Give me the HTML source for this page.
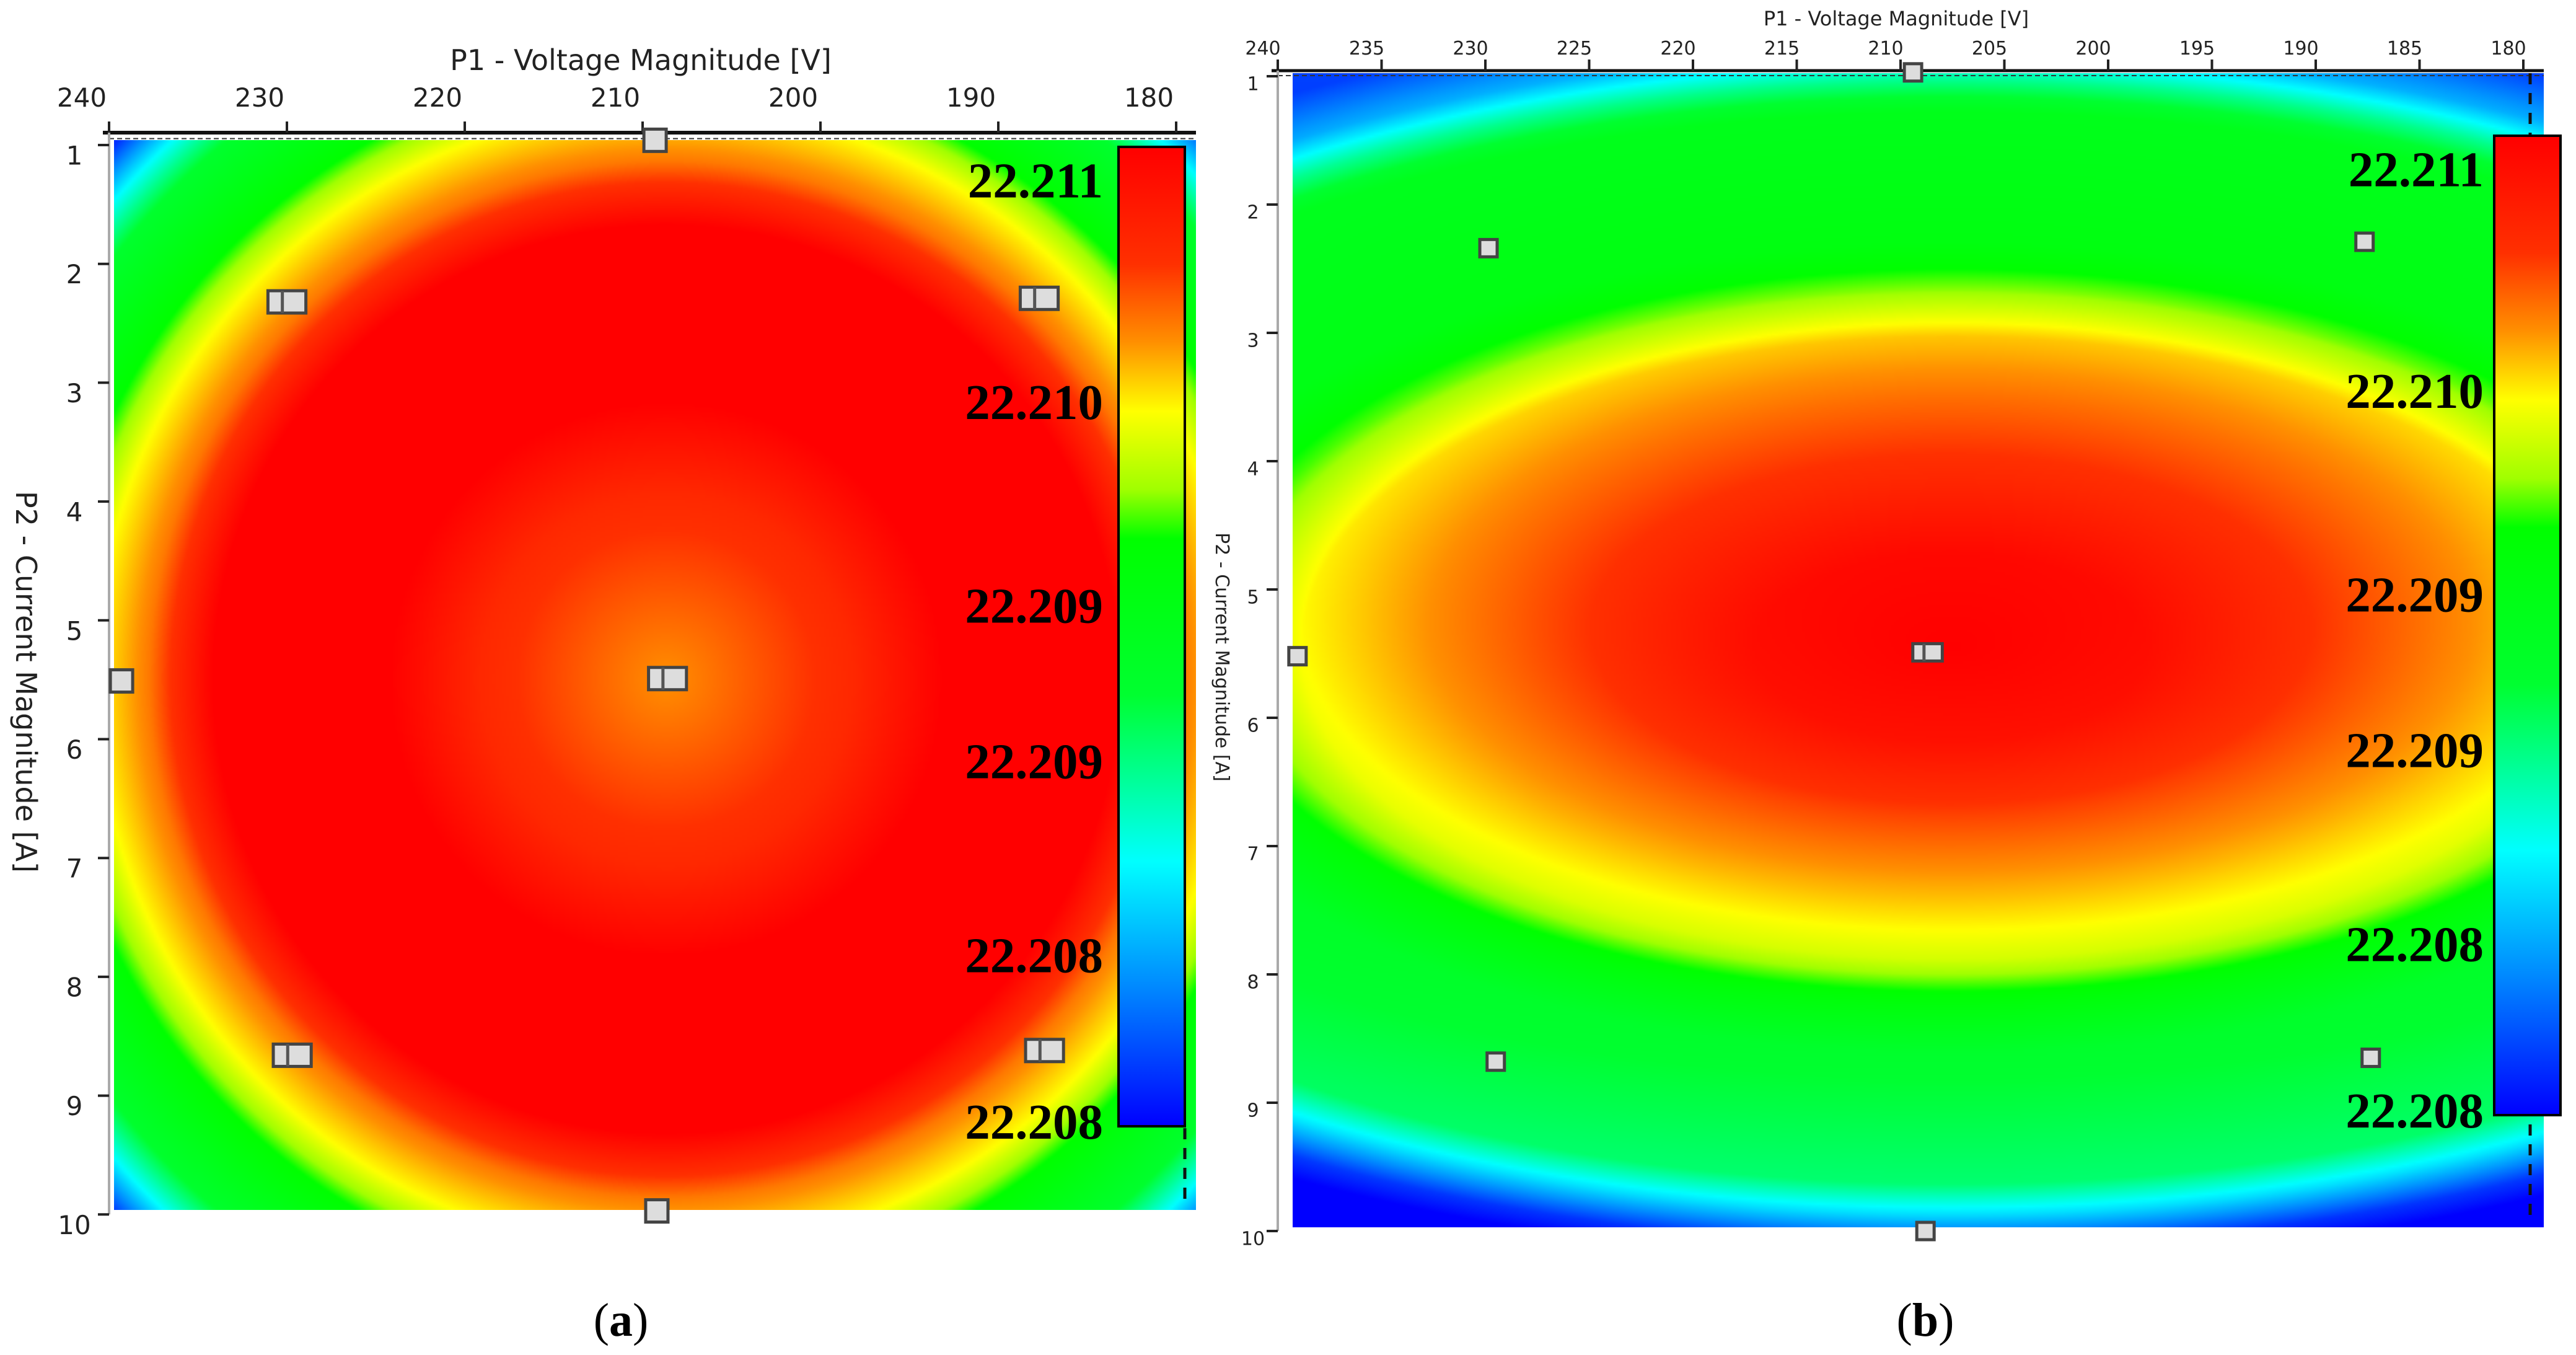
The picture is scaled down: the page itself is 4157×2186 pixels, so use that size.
<!DOCTYPE html>
<html><head><meta charset="utf-8">
<style>
html,body{margin:0;padding:0;background:#fff;}
#root{position:relative;width:4157px;height:2186px;overflow:hidden;background:#fff;}
canvas{position:absolute;}
svg{position:absolute;left:0;top:0;}
</style></head>
<body>
<div id="root">
<canvas id="heatA"></canvas>
<canvas id="heatB"></canvas>
<svg id="svg" width="4157" height="2186" viewBox="0 0 4157 2186" xmlns="http://www.w3.org/2000/svg">
<defs>
<linearGradient id="cmap" x1="0" y1="1" x2="0" y2="0">
<stop offset="0" stop-color="#0000ff"/>
<stop offset="0.15" stop-color="#0090ff"/>
<stop offset="0.27" stop-color="#00ffff"/>
<stop offset="0.36" stop-color="#00ff90"/>
<stop offset="0.44" stop-color="#00ff30"/>
<stop offset="0.6" stop-color="#00ff00"/>
<stop offset="0.65" stop-color="#a0ff00"/>
<stop offset="0.73" stop-color="#ffff00"/>
<stop offset="0.8" stop-color="#ff9000"/>
<stop offset="0.88" stop-color="#ff3000"/>
<stop offset="1" stop-color="#ff0000"/>
</linearGradient>
</defs>
</svg>
</div>
<script>
// colour map stops (normalized response 0..1 -> rgb)
const cmapT = [0, 0.15, 0.27, 0.36, 0.44, 0.6, 0.65, 0.73, 0.8, 0.88, 1];
const cmapR = [0, 0, 0, 0, 0, 0, 160, 255, 255, 255, 255];
const cmapG = [0, 144, 255, 255, 255, 255, 255, 255, 144, 48, 0];
const cmapB = [255, 255, 255, 144, 48, 0, 0, 0, 0, 0, 0];

// Panel (a) response surface: centre, spread and radial profile
const aCenter = [208.7, 5.49];
const aSpread = [30, 4.5];
const aProfileD = [0, 0.35, 0.52, 0.85, 0.97, 1.07, 1.15, 1.3, 1.37, 1.44, 1.6];
const aProfileV = [0.8, 0.9, 1.0, 1.0, 0.82, 0.73, 0.6, 0.45, 0.27, 0.05, 0];
const aTilt = [0];
// Panel (b)
const bCenter = [207.6, 5.45];
const bSpread = [31.3, 2.43];
const bProfileD = [0, 0.3, 0.55, 0.8, 1.0, 1.15, 1.3, 1.72, 1.82, 1.92, 2.05];
const bProfileV = [1.0, 0.97, 0.88, 0.8, 0.73, 0.6, 0.5, 0.45, 0.3, 0.12, 0];
const bTilt = [-0.015];

// axes
const aXTicks = [240, 230, 220, 210, 200, 190, 180];
const bXTicks = [240, 235, 230, 225, 220, 215, 210, 205, 200, 195, 190, 185, 180];
const yTicks = [1, 2, 3, 4, 5, 6, 7, 8, 9, 10];
const cbLabels = ["22.211", "22.210", "22.209", "22.209", "22.208", "22.208"];
const cbLabelPos = [0.966, 0.74, 0.532, 0.373, 0.175, 0.005];

// design points
const aPtV = [230.0, 187.7, 239.3, 208.6, 229.7, 187.4, 209.3, 209.2];
const aPtA = [2.32, 2.29, 5.51, 5.49, 8.66, 8.62, 0.96, 9.97];
const aPtDouble = [1, 1, 0, 1, 1, 1, 0, 0];
const bPtV = [229.85, 187.65, 239.05, 208.7, 229.5, 187.35, 209.4, 208.8];
const bPtA = [2.34, 2.29, 5.52, 5.49, 8.68, 8.65, 0.97, 10.0];
const bPtDouble = [0, 0, 0, 1, 0, 0, 0, 0];

const NS = "http://www.w3.org/2000/svg";
const svg = document.getElementById('svg');
function mk(tag, attrs, parent) {
  const e = document.createElementNS(NS, tag);
  for (const k in attrs) e.setAttribute(k, attrs[k]);
  (parent || svg).appendChild(e);
  return e;
}
function interp(xs, ys, x) {
  if (x <= xs[0]) return ys[0];
  for (let i = 1; i < xs.length; i++) {
    if (x <= xs[i]) { const f = (x - xs[i-1]) / (xs[i] - xs[i-1]); return ys[i-1] + f * (ys[i] - ys[i-1]); }
  }
  return ys[ys.length - 1];
}

function panel(cfg) {
  const xS = v => cfg.x0 + (240 - v) * cfg.pxV;
  const yS = a => cfg.y0 + (a - 1) * cfg.pxA;
  const cv = document.getElementById(cfg.canvas);
  const W = cfg.hx1 - cfg.hx0, H = cfg.hy1 - cfg.hy0, s = 4;
  cv.width = Math.ceil(W / s); cv.height = Math.ceil(H / s);
  cv.style.left = cfg.hx0 + 'px'; cv.style.top = cfg.hy0 + 'px';
  cv.style.width = W + 'px'; cv.style.height = H + 'px';
  const ctx = cv.getContext('2d');
  const img = ctx.createImageData(cv.width, cv.height);
  for (let j = 0; j < cv.height; j++) {
    const a = 1 + (cfg.hy0 + j * s - cfg.y0) / cfg.pxA;
    for (let i = 0; i < cv.width; i++) {
      const v = 240 - (cfg.hx0 + i * s - cfg.x0) / cfg.pxV;
      const dx = (v - cfg.center[0]) / cfg.spread[0], dy = (a - cfg.center[1]) / cfg.spread[1];
      let t = interp(cfg.pd, cfg.pv, Math.sqrt(dx*dx + dy*dy)) + cfg.tilt[0] * (a - cfg.center[1]);
      t = Math.max(0, Math.min(1, t));
      const k = (j * cv.width + i) * 4;
      img.data[k] = interp(cmapT, cmapR, t);
      img.data[k+1] = interp(cmapT, cmapG, t);
      img.data[k+2] = interp(cmapT, cmapB, t);
      img.data[k+3] = 255;
    }
  }
  ctx.putImageData(img, 0, 0);
  const g = mk('g', {});
  
  
  const topAx = mk('line', {x1: cfg.x0 - 10, y1: cfg.yTop, x2: cfg.hx1, y2: cfg.yTop, stroke: '#111', 'stroke-width': cfg.axW}, g);
  
  
  mk('line', {x1: cfg.x0, y1: cfg.yTop + cfg.axW * 1.6, x2: cfg.hx1, y2: cfg.yTop + cfg.axW * 1.6, stroke: '#333', 'stroke-width': 2, 'stroke-dasharray': '8 5'}, g);
  const yAx = mk('line', {x1: cfg.x0, y1: cfg.yTop, x2: cfg.x0, y2: yS(10), stroke: '#aaa', 'stroke-width': 4}, g);
  
  
  cfg.xticks.forEach(v => {
    mk('line', {x1: xS(v), y1: cfg.yTop, x2: xS(v), y2: cfg.yTop - 18, stroke: '#222', 'stroke-width': 4}, g);
    const t = mk('text', {x: xS(v) - cfg.xLabOff, y: cfg.xLabY, 'font-size': cfg.tickFs, 'text-anchor': 'middle', fill: '#222', 'font-family': 'DejaVu Sans, Liberation Sans, sans-serif'}, g);
    t.textContent = v;
    
    
  });
  yTicks.forEach(a => {
    mk('line', {x1: cfg.x0 - 18, y1: yS(a), x2: cfg.x0, y2: yS(a), stroke: '#222', 'stroke-width': 4}, g);
    const t = mk('text', {x: cfg.yLabX, y: yS(a) + cfg.tickFs * 0.75, 'font-size': cfg.tickFs, 'text-anchor': 'middle', fill: '#222', 'font-family': 'DejaVu Sans, Liberation Sans, sans-serif'}, g);
    t.textContent = a;
    
    
  });
  const xt = mk('text', {x: cfg.xTitle[0], y: cfg.xTitle[1], 'font-size': cfg.titleFs, 'text-anchor': 'middle', fill: '#222', 'font-family': 'DejaVu Sans, Liberation Sans, sans-serif'});
  xt.textContent = 'P1 - Voltage Magnitude  [V]';
  
  
  const yt = mk('text', {x: 0, y: 0, 'font-size': cfg.yTitleFs, 'text-anchor': 'middle', fill: '#222', 'font-family': 'DejaVu Sans, Liberation Sans, sans-serif', transform: 'translate(' + cfg.yTitle[0] + ',' + cfg.yTitle[1] + ') rotate(90)'});
  yt.textContent = 'P2 - Current Magnitude  [A]';
  
  
  mk('line', {x1: cfg.dashX, y1: cfg.dashY0, x2: cfg.dashX, y2: cfg.hy1 - 10, stroke: '#111', 'stroke-width': 5, 'stroke-dasharray': '18 14'});
  cfg.ptV.forEach((v, i) => {
    const cx = xS(v), cy = yS(cfg.ptA[i]);
    const w = cfg.ptDouble[i] ? cfg.ms * 1.7 : cfg.ms, h = cfg.ms;
    const pg = mk('g', {});
    
    
    mk('rect', {x: cx - w/2, y: cy - h/2, width: w, height: h, fill: '#ddd', stroke: '#444', 'stroke-width': 5}, pg);
    if (cfg.ptDouble[i]) mk('line', {x1: cx - w*0.12, y1: cy - h/2, x2: cx - w*0.12, y2: cy + h/2, stroke: '#555', 'stroke-width': 5}, pg);
  });
  const cb = mk('rect', {x: cfg.cb[0], y: cfg.cb[1], width: cfg.cb[2], height: cfg.cb[3], fill: 'url(#cmap)', stroke: '#000', 'stroke-width': 4});
  
  
  cbLabels.forEach((l, i) => {
    const y = cfg.cb[1] + cfg.cb[3] * (1 - cbLabelPos[i]);
    const t = mk('text', {x: cfg.cbLabX, y: y + 28, 'font-size': 81, 'font-weight': 'bold', 'text-anchor': 'end', fill: '#000', 'font-family': 'Liberation Serif, serif'});
    t.textContent = l;
    
    
  });
  const cap = mk('text', {x: cfg.cap, y: 2155, 'font-size': 76, 'text-anchor': 'middle', fill: '#000', 'font-family': 'Liberation Serif, serif'});
  cap.innerHTML = '(<tspan font-weight="bold">' + cfg.id.slice(-1) + '</tspan>)';
  
  
}

panel({id: 'panel-a', canvas: 'heatA', x0: 176, pxV: 28.7, y0: 234, pxA: 191.7,
  hx0: 184, hx1: 1930, hy0: 226, hy1: 1952, yTop: 214, axW: 6,
  center: aCenter, spread: aSpread, pd: aProfileD, pv: aProfileV, tilt: aTilt,
  xticks: aXTicks, xLabOff: 44, xLabY: 172, tickFs: 42, yLabX: 120, titleFs: 46,
  xTitle: [1034, 113], yTitle: [26, 1100], yTitleFs: 46,
  dashX: 1912, dashY0: 1820, ptV: aPtV, ptA: aPtA, ptDouble: aPtDouble, ms: 36,
  cb: [1805, 237, 107, 1580], cbLabX: 1780, cap: 1002});
panel({id: 'panel-b', canvas: 'heatB', x0: 2062, pxV: 33.5, y0: 123, pxA: 207,
  hx0: 2086, hx1: 4105, hy0: 118, hy1: 1980, yTop: 114, axW: 5,
  center: bCenter, spread: bSpread, pd: bProfileD, pv: bProfileV, tilt: bTilt,
  xticks: bXTicks, xLabOff: 24, xLabY: 88, tickFs: 30, yLabX: 2022, titleFs: 32,
  xTitle: [3060, 41], yTitle: [1962, 1060], yTitleFs: 30,
  dashX: 4083, dashY0: 118, ptV: bPtV, ptA: bPtA, ptDouble: bPtDouble, ms: 28,
  cb: [4025, 219, 107, 1580], cbLabX: 4008, cap: 3107});
</script>
</body></html>
